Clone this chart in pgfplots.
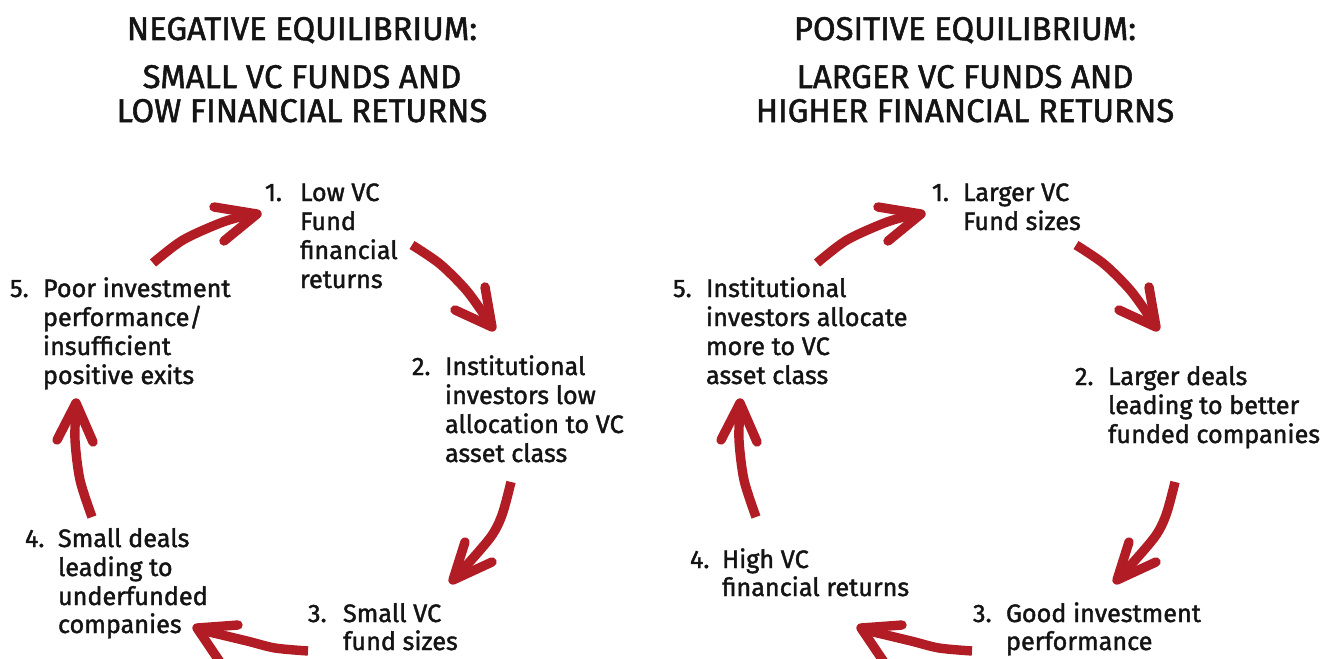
\documentclass[border=0pt]{standalone}
\usepackage{fontspec}
\setmainfont{Fira Sans}[FakeBold=1.6]
\usepackage{pgfplots}
\pgfplotsset{compat=1.18}
\definecolor{vcred}{RGB}{178,28,36}
\tikzset{
  lbl/.style={inner sep=0pt, outer sep=0pt, anchor=base west, font=\fontsize{12.6bp}{15bp}\selectfont, text=black!92},
  ttl/.style={inner sep=0pt, outer sep=0pt, anchor=base, font=\fontsize{16.4bp}{19bp}\selectfont, text=black!92},
}
\begin{document}
\begin{tikzpicture}
\begin{axis}[
  width=669bp, height=329.5bp, scale only axis,
  xmin=0, xmax=1338, ymin=0, ymax=659, y dir=reverse,
  hide axis, clip=false,
]
\coordinate (tl) at (axis cs:0,0);
\coordinate (br) at (axis cs:1338,659);
\pgfplotsset{shaft/.style={vcred, line width=4.7bp, line cap=butt, smooth, no marks},
             head/.style={vcred, line width=4.7bp, line cap=round, line join=round, no marks}}
% ---- arrows (left) ----
\addplot[shaft] coordinates {(153,263) (183,240) (223,222) (252,214)};
\addplot[head] coordinates {(214,207) (257,214) (224,241)};
\addplot[shaft] coordinates {(412,245) (440,264) (467,291) (489,322)};
\addplot[head] coordinates {(485,287) (492,327) (455,310)};
\addplot[shaft] coordinates {(511,482) (502,515) (490,538) (457,576)};
\addplot[head] coordinates {(465,542) (453,580) (492,562)};
\addplot[shaft] coordinates {(308,651) (275,648) (247,641) (201,630)};
\addplot[head] coordinates {(238,625) (197,628) (220,662)};
\addplot[shaft] coordinates {(92,517) (80,480) (75,440) (76,408)};
\addplot[head] coordinates {(57,440) (76,403) (93,442)};
% ---- arrows (right) ----
\addplot[shaft] coordinates {(817,263) (847,240) (887,222) (916,214)};
\addplot[head] coordinates {(878,207) (921,214) (888,241)};
\addplot[shaft] coordinates {(1076,245) (1104,264) (1131,291) (1153,322)};
\addplot[head] coordinates {(1149,287) (1156,327) (1119,310)};
\addplot[shaft] coordinates {(1175,482) (1166,515) (1154,538) (1121,576)};
\addplot[head] coordinates {(1129,542) (1117,580) (1156,562)};
\addplot[shaft] coordinates {(972,651) (939,648) (911,641) (865,630)};
\addplot[head] coordinates {(902,625) (861,628) (884,662)};
\addplot[shaft] coordinates {(756,517) (744,480) (739,440) (740,408)};
\addplot[head] coordinates {(721,440) (740,403) (757,442)};
% ---- titles ----
\node[ttl] at (axis cs:302,40) {NEGATIVE EQUILIBRIUM:};
\node[ttl] at (axis cs:302,88) {SMALL VC FUNDS AND};
\node[ttl] at (axis cs:302,122) {LOW FINANCIAL RETURNS};
\node[ttl] at (axis cs:965,40) {POSITIVE EQUILIBRIUM:};
\node[ttl] at (axis cs:965,88) {LARGER VC FUNDS AND};
\node[ttl] at (axis cs:965,122) {HIGHER FINANCIAL RETURNS};
% ---- left labels ----
\node[lbl] at (axis cs:265,201) {1.};
\node[lbl] at (axis cs:300,201) {Low VC};
\node[lbl] at (axis cs:300,230) {Fund};
\node[lbl] at (axis cs:300,259) {financial};
\node[lbl] at (axis cs:300,288) {returns};
\node[lbl] at (axis cs:412,375) {2.};
\node[lbl] at (axis cs:445,375) {Institutional};
\node[lbl] at (axis cs:445,404) {investors low};
\node[lbl] at (axis cs:445,433) {allocation to VC};
\node[lbl] at (axis cs:445,462) {asset class};
\node[lbl] at (axis cs:308,622) {3.};
\node[lbl] at (axis cs:343,622) {Small VC};
\node[lbl] at (axis cs:343,650) {fund sizes};
\node[lbl] at (axis cs:25,547) {4.};
\node[lbl] at (axis cs:58,547) {Small deals};
\node[lbl] at (axis cs:58,576) {leading to};
\node[lbl] at (axis cs:58,605) {underfunded};
\node[lbl] at (axis cs:58,633) {companies};
\node[lbl] at (axis cs:10,297) {5.};
\node[lbl] at (axis cs:43,297) {Poor investment};
\node[lbl] at (axis cs:43,326) {performance/};
\node[lbl] at (axis cs:43,355) {insufficient};
\node[lbl] at (axis cs:43,384) {positive exits};
% ---- right labels ----
\node[lbl] at (axis cs:932,201) {1.};
\node[lbl] at (axis cs:963,201) {Larger VC};
\node[lbl] at (axis cs:963,230) {Fund sizes};
\node[lbl] at (axis cs:1075,385) {2.};
\node[lbl] at (axis cs:1108,385) {Larger deals};
\node[lbl] at (axis cs:1108,414) {leading to better};
\node[lbl] at (axis cs:1108,443) {funded companies};
\node[lbl] at (axis cs:973,622) {3.};
\node[lbl] at (axis cs:1006,622) {Good investment};
\node[lbl] at (axis cs:1006,650) {performance};
\node[lbl] at (axis cs:690,568) {4.};
\node[lbl] at (axis cs:722,568) {High VC};
\node[lbl] at (axis cs:722,596) {financial returns};
\node[lbl] at (axis cs:673,297) {5.};
\node[lbl] at (axis cs:706,297) {Institutional};
\node[lbl] at (axis cs:706,326) {investors allocate};
\node[lbl] at (axis cs:706,355) {more to VC};
\node[lbl] at (axis cs:706,384) {asset class};
\end{axis}
\pgfresetboundingbox
\path[use as bounding box] (tl) rectangle (br);
\end{tikzpicture}
\end{document}
